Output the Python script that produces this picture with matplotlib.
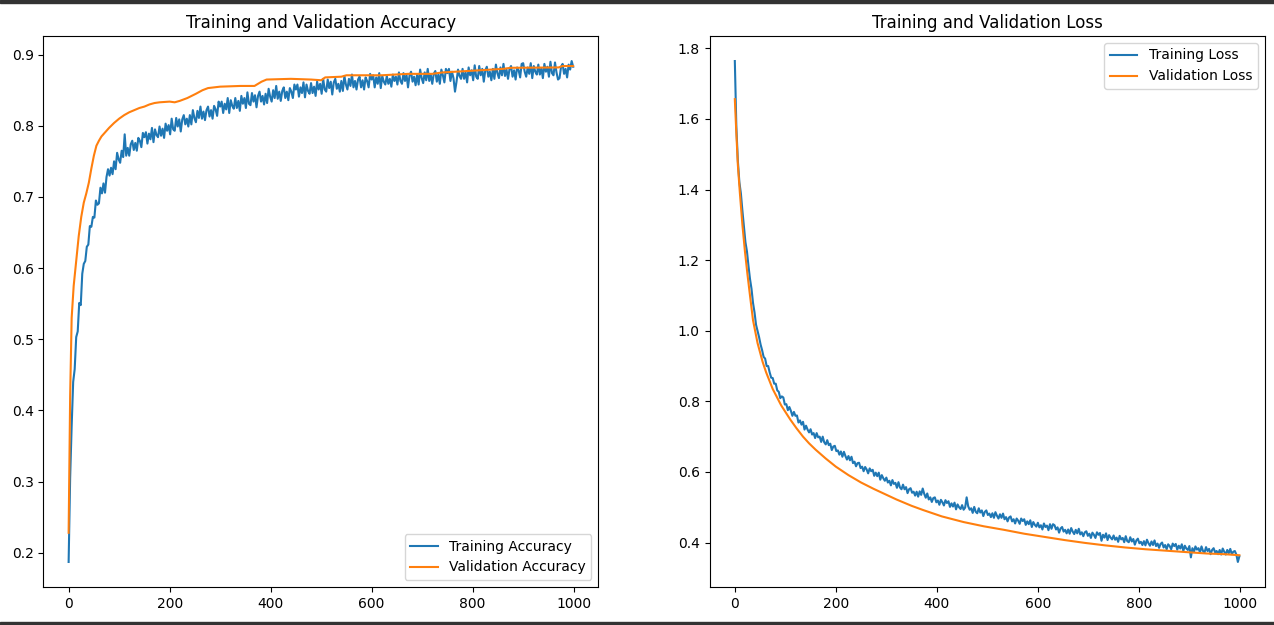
import matplotlib
matplotlib.use("Agg")
import matplotlib.pyplot as plt
from matplotlib.patches import Rectangle

# ---------------- data ----------------
train_epochs = list(range(0, 1000, 3))

train_acc = [
    0.187, 0.305, 0.378, 0.440, 0.458, 0.503, 0.511, 0.551, 0.548, 0.592,
    0.606, 0.610, 0.630, 0.633, 0.659, 0.658, 0.672, 0.671, 0.695, 0.689,
    0.691, 0.713, 0.705, 0.719, 0.706, 0.728, 0.739, 0.730, 0.741, 0.732,
    0.750, 0.739, 0.762, 0.753, 0.748, 0.765, 0.756, 0.788, 0.758, 0.769,
    0.758, 0.774, 0.779, 0.766, 0.776, 0.765, 0.783, 0.779, 0.770, 0.790,
    0.784, 0.791, 0.775, 0.789, 0.781, 0.797, 0.777, 0.795, 0.787, 0.784,
    0.799, 0.786, 0.796, 0.783, 0.803, 0.793, 0.801, 0.788, 0.810, 0.795,
    0.793, 0.811, 0.799, 0.809, 0.792, 0.809, 0.815, 0.802, 0.810, 0.799,
    0.815, 0.802, 0.822, 0.811, 0.805, 0.821, 0.811, 0.827, 0.810, 0.820,
    0.808, 0.822, 0.827, 0.813, 0.822, 0.810, 0.828, 0.823, 0.814, 0.834,
    0.827, 0.834, 0.818, 0.831, 0.823, 0.839, 0.818, 0.836, 0.828, 0.824,
    0.839, 0.825, 0.835, 0.821, 0.842, 0.831, 0.839, 0.825, 0.847, 0.831,
    0.829, 0.846, 0.834, 0.843, 0.826, 0.842, 0.848, 0.834, 0.842, 0.830,
    0.845, 0.832, 0.852, 0.841, 0.834, 0.850, 0.839, 0.856, 0.838, 0.848,
    0.835, 0.849, 0.854, 0.839, 0.848, 0.836, 0.853, 0.848, 0.839, 0.858,
    0.851, 0.858, 0.841, 0.854, 0.846, 0.861, 0.840, 0.858, 0.849, 0.845,
    0.860, 0.846, 0.855, 0.842, 0.862, 0.851, 0.859, 0.845, 0.866, 0.851,
    0.848, 0.865, 0.853, 0.862, 0.844, 0.861, 0.866, 0.852, 0.859, 0.848,
    0.863, 0.849, 0.870, 0.858, 0.851, 0.866, 0.856, 0.872, 0.854, 0.863,
    0.851, 0.865, 0.869, 0.854, 0.864, 0.851, 0.868, 0.863, 0.854, 0.873,
    0.865, 0.871, 0.854, 0.868, 0.859, 0.874, 0.853, 0.870, 0.862, 0.858,
    0.870, 0.859, 0.866, 0.855, 0.872, 0.863, 0.869, 0.858, 0.875, 0.863,
    0.859, 0.874, 0.863, 0.872, 0.854, 0.871, 0.876, 0.862, 0.869, 0.857,
    0.872, 0.858, 0.879, 0.867, 0.860, 0.875, 0.864, 0.880, 0.863, 0.872,
    0.859, 0.873, 0.877, 0.862, 0.872, 0.859, 0.879, 0.871, 0.861, 0.880,
    0.874, 0.880, 0.863, 0.876, 0.867, 0.848, 0.862, 0.879, 0.870, 0.866,
    0.880, 0.866, 0.875, 0.861, 0.882, 0.871, 0.878, 0.864, 0.885, 0.869,
    0.866, 0.884, 0.871, 0.880, 0.862, 0.878, 0.883, 0.869, 0.876, 0.864,
    0.880, 0.866, 0.886, 0.874, 0.867, 0.882, 0.871, 0.887, 0.870, 0.879,
    0.866, 0.880, 0.884, 0.869, 0.878, 0.865, 0.882, 0.878, 0.868, 0.887,
    0.888, 0.876, 0.869, 0.882, 0.873, 0.888, 0.867, 0.884, 0.876, 0.872,
    0.886, 0.872, 0.881, 0.867, 0.887, 0.876, 0.883, 0.869, 0.890, 0.874,
    0.871, 0.889, 0.875, 0.865, 0.867, 0.883, 0.887, 0.873, 0.880, 0.868,
    0.886, 0.879, 0.891, 0.883,
]

val_acc_epochs = [0, 3, 6, 10, 15, 20, 25, 30, 35, 40,
                  45, 50, 55, 60, 65, 70, 80, 90, 100, 110,
                  120, 130, 140, 150, 160, 170, 180, 200, 210, 220,
                  235, 252, 265, 276, 300, 340, 368, 382, 392, 440,
                  480, 500, 508, 540, 550, 620, 672, 720, 740, 790,
                  860, 875, 970, 978, 999]
val_acc = [0.228, 0.42, 0.53, 0.575, 0.61, 0.645, 0.672, 0.692, 0.705, 0.72,
           0.74, 0.758, 0.772, 0.779, 0.785, 0.789, 0.797, 0.804, 0.81, 0.815,
           0.819, 0.822, 0.825, 0.827, 0.83, 0.832, 0.833, 0.834, 0.833, 0.835,
           0.839, 0.845, 0.850, 0.853, 0.855, 0.856, 0.856, 0.862, 0.865, 0.866,
           0.865, 0.864, 0.868, 0.869, 0.871, 0.871, 0.873, 0.873, 0.875, 0.877,
           0.880, 0.8815, 0.882, 0.884, 0.884]

train_loss = [
    1.764, 1.578, 1.481, 1.421, 1.389, 1.340, 1.297, 1.251, 1.225, 1.184,
    1.147, 1.119, 1.079, 1.052, 1.017, 0.999, 0.982, 0.961, 0.945, 0.926,
    0.921, 0.900, 0.900, 0.882, 0.867, 0.866, 0.850, 0.850, 0.831, 0.827,
    0.809, 0.814, 0.811, 0.791, 0.792, 0.775, 0.784, 0.773, 0.759, 0.770,
    0.759, 0.760, 0.740, 0.746, 0.734, 0.742, 0.720, 0.731, 0.720, 0.712,
    0.721, 0.706, 0.710, 0.696, 0.710, 0.698, 0.700, 0.685, 0.700, 0.684,
    0.678, 0.690, 0.676, 0.680, 0.662, 0.672, 0.674, 0.659, 0.661, 0.649,
    0.658, 0.643, 0.657, 0.645, 0.635, 0.645, 0.633, 0.643, 0.625, 0.629,
    0.616, 0.625, 0.626, 0.611, 0.615, 0.602, 0.614, 0.607, 0.596, 0.610,
    0.602, 0.606, 0.589, 0.598, 0.588, 0.598, 0.578, 0.591, 0.582, 0.575,
    0.584, 0.570, 0.575, 0.562, 0.577, 0.566, 0.569, 0.555, 0.571, 0.556,
    0.551, 0.564, 0.551, 0.557, 0.540, 0.551, 0.554, 0.541, 0.544, 0.533,
    0.544, 0.530, 0.545, 0.535, 0.553, 0.538, 0.527, 0.539, 0.522, 0.528,
    0.515, 0.526, 0.528, 0.514, 0.519, 0.507, 0.521, 0.514, 0.505, 0.520,
    0.512, 0.517, 0.501, 0.511, 0.502, 0.513, 0.494, 0.508, 0.500, 0.495,
    0.506, 0.493, 0.499, 0.528, 0.503, 0.493, 0.497, 0.484, 0.501, 0.487,
    0.483, 0.497, 0.485, 0.491, 0.475, 0.487, 0.491, 0.478, 0.482, 0.472,
    0.483, 0.470, 0.486, 0.476, 0.468, 0.480, 0.470, 0.482, 0.466, 0.472,
    0.460, 0.471, 0.474, 0.460, 0.466, 0.454, 0.468, 0.462, 0.453, 0.468,
    0.461, 0.466, 0.450, 0.460, 0.452, 0.463, 0.444, 0.458, 0.450, 0.445,
    0.456, 0.443, 0.449, 0.437, 0.454, 0.444, 0.448, 0.435, 0.452, 0.439,
    0.452, 0.449, 0.437, 0.443, 0.428, 0.440, 0.444, 0.431, 0.436, 0.426,
    0.437, 0.425, 0.441, 0.431, 0.424, 0.436, 0.426, 0.439, 0.423, 0.429,
    0.418, 0.429, 0.432, 0.419, 0.425, 0.413, 0.428, 0.422, 0.413, 0.429,
    0.422, 0.427, 0.405, 0.422, 0.414, 0.426, 0.407, 0.421, 0.414, 0.409,
    0.420, 0.408, 0.414, 0.402, 0.419, 0.409, 0.413, 0.401, 0.418, 0.404,
    0.401, 0.415, 0.403, 0.410, 0.394, 0.406, 0.411, 0.398, 0.402, 0.393,
    0.404, 0.392, 0.408, 0.398, 0.391, 0.403, 0.393, 0.406, 0.390, 0.397,
    0.385, 0.396, 0.400, 0.386, 0.393, 0.381, 0.395, 0.390, 0.381, 0.397,
    0.390, 0.396, 0.380, 0.391, 0.383, 0.395, 0.376, 0.391, 0.383, 0.379,
    0.390, 0.358, 0.384, 0.373, 0.389, 0.380, 0.384, 0.372, 0.389, 0.376,
    0.372, 0.387, 0.376, 0.382, 0.367, 0.379, 0.384, 0.372, 0.376, 0.367,
    0.379, 0.366, 0.383, 0.374, 0.366, 0.379, 0.370, 0.382, 0.367, 0.374,
    0.376, 0.366, 0.345, 0.361,
]

val_loss_epochs = [0, 3, 6, 10, 15, 20, 25, 30, 36, 45,
                   55, 62, 75, 92, 110, 122, 135, 147, 160, 180,
                   200, 225, 250, 275, 293, 320, 350, 373, 410, 453,
                   493, 533, 573, 613, 653, 693, 733, 773, 813, 853,
                   893, 934, 970, 999]
val_loss = [1.656, 1.56, 1.47, 1.39, 1.30, 1.225, 1.16, 1.10, 1.03, 0.965,
            0.912, 0.882, 0.835, 0.788, 0.748, 0.724, 0.70, 0.681, 0.663, 0.638,
            0.615, 0.591, 0.570, 0.552, 0.540, 0.522, 0.504, 0.492, 0.474, 0.458,
            0.446, 0.436, 0.425, 0.416, 0.407, 0.399, 0.392, 0.386, 0.381, 0.377,
            0.373, 0.369, 0.367, 0.364]

# ---------------- figure ----------------
W, H = 1274, 625
fig = plt.figure(figsize=(W / 100, H / 100), dpi=100)

ax1 = fig.add_axes([43.4 / W, 1 - 587 / H, 555 / W, 551 / H])
ax2 = fig.add_axes([709.6 / W, 1 - 587 / H, 555 / W, 551 / H])

ax1.plot(train_epochs, train_acc, label="Training Accuracy")
ax1.plot(val_acc_epochs, val_acc, label="Validation Accuracy")
ax1.legend(loc="lower right")
ax1.set_title("Training and Validation Accuracy")

ax2.plot(train_epochs, train_loss, label="Training Loss")
ax2.plot(val_loss_epochs, val_loss, label="Validation Loss")
ax2.legend(loc="upper right")
ax2.set_title("Training and Validation Loss")

# dark screenshot edges at top and bottom
fig.patches.append(Rectangle((0, 1 - 2.5 / H), 1, 2.5 / H, transform=fig.transFigure,
                             color="#333333", zorder=10))
fig.patches.append(Rectangle((0, 0), 1, 3 / H, transform=fig.transFigure,
                             color="#333333", zorder=10))

fig.savefig("out.png", dpi=100)
